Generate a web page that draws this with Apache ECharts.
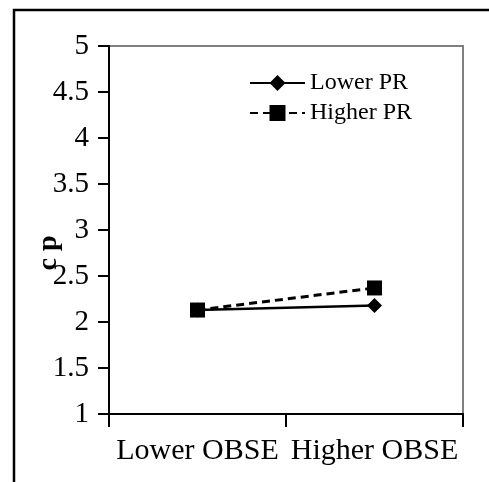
<!DOCTYPE html>
<html>
<head>
<meta charset="utf-8">
<script src="https://cdn.jsdelivr.net/npm/echarts@6/dist/echarts.min.js"></script>
<style>
  html, body { margin: 0; padding: 0; background: #fff; }
  #chart { width: 489px; height: 482px; }
</style>
</head>
<body>
<div id="chart"></div>
<script>
// categories and values
const categories = ['Lower OBSE', 'Higher OBSE']
const lowerPR = [2.13, 2.18]
const higherPR = [2.13, 2.37]
const seriesNames = ['Lower PR', 'Higher PR']
const yTicks = { min: 1, max: 5, step: 0.5 }

const serif = '"Liberation Serif", "Times New Roman", serif'

const mychart = echarts.init(document.getElementById('chart'))
const option = {
  backgroundColor: '#fff',
  animation: false,
  grid: {
    left: 109,
    right: 26,
    top: 46,
    bottom: 68,
    show: true,
    borderColor: '#808080',
    borderWidth: 2,
    backgroundColor: 'transparent'
  },
  // outer frame of the figure
  graphic: [{
    type: 'rect',
    shape: { x: 14, y: 10, width: 490, height: 490 },
    style: { fill: 'none', stroke: '#000', lineWidth: 2.5 },
    silent: true
  }],
  legend: {
    orient: 'vertical',
    left: 244,
    top: 66,
    itemWidth: 55,
    itemHeight: 20,
    itemGap: 6,
    textStyle: { fontFamily: serif, fontSize: 24, color: '#000' },
    data: seriesNames
  },
  xAxis: {
    type: 'category',
    data: categories,
    boundaryGap: true,
    axisLine: { show: true, lineStyle: { color: '#000', width: 2 } },
    axisTick: { show: true, inside: false, alignWithLabel: false, interval: 0, length: 13, lineStyle: { color: '#000', width: 2 } },
    axisLabel: { color: '#000', fontFamily: serif, fontSize: 30, margin: 22, interval: 0 }
  },
  yAxis: {
    type: 'value',
    position: 'left',
    min: yTicks.min,
    max: yTicks.max,
    interval: yTicks.step,
    name: 'c p',
    nameLocation: 'middle',
    nameGap: 46,
    nameRotate: 90,
    nameMoveOverlap: false,
    nameTextStyle: { fontFamily: serif, fontSize: 28, fontWeight: 'bold', color: '#000', padding: [0, 46, 0, 0] },
    axisLine: { show: true, onZero: false, lineStyle: { color: '#000', width: 2 } },
    axisTick: { show: true, inside: false, interval: 0, length: 11, lineStyle: { color: '#000', width: 2, opacity: 1 } },
    splitLine: { show: false },
    axisLabel: { color: '#000', fontFamily: serif, fontSize: 29, margin: 20 }
  },
  series: [
    {
      name: seriesNames[0],
      type: 'line',
      data: lowerPR,
      symbol: 'diamond',
      symbolSize: 15,
      itemStyle: { color: '#000' },
      lineStyle: { color: '#000', width: 2.5, type: 'solid' }
    },
    {
      name: seriesNames[1],
      type: 'line',
      data: higherPR,
      symbol: 'rect',
      symbolSize: 15,
      itemStyle: { color: '#000' },
      lineStyle: { color: '#000', width: 3, type: [8, 5] }
    }
  ]
}
mychart.setOption(option, true)
</script>
</body>
</html>
